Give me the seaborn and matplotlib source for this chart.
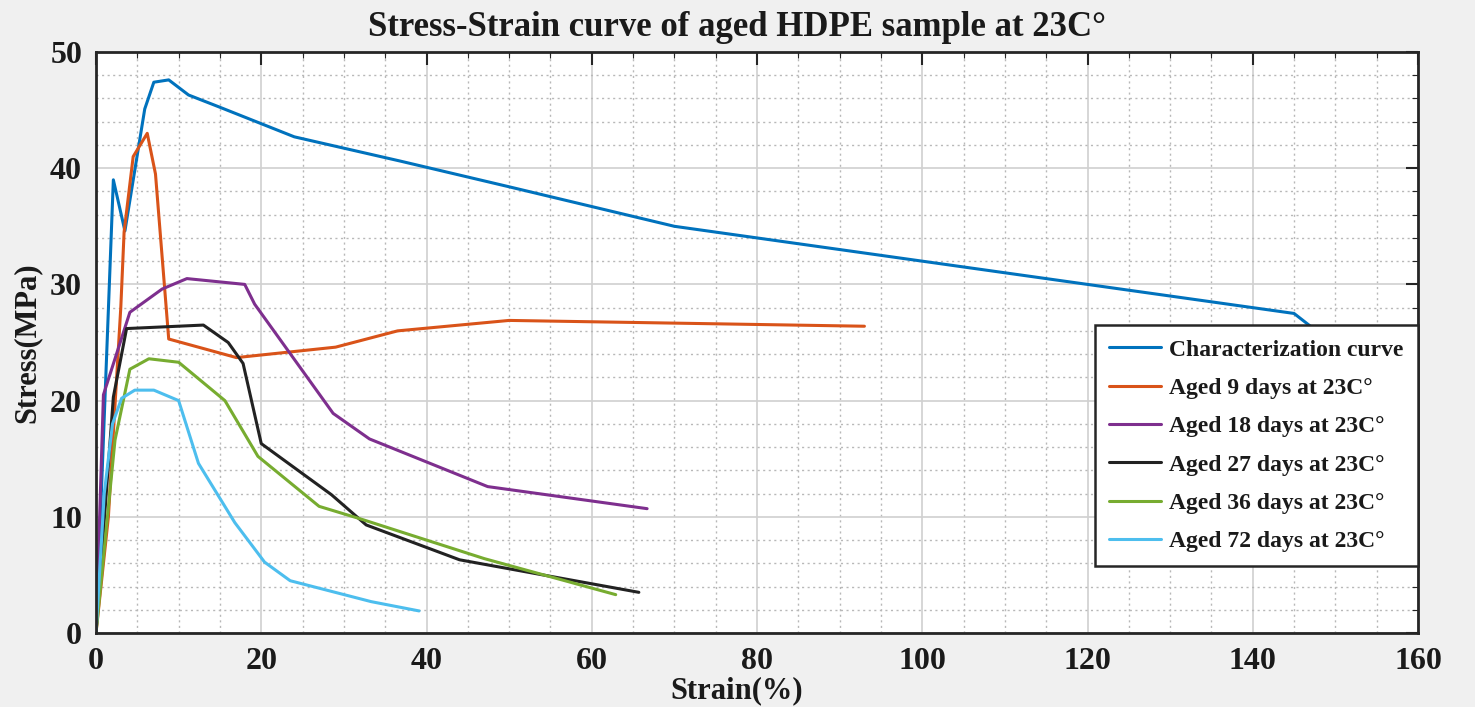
import numpy as np
import pandas as pd
import matplotlib
matplotlib.use("Agg")
import matplotlib.pyplot as plt
from matplotlib.ticker import MultipleLocator
import seaborn as sns

# strain (%) / stress (MPa)
char_strain = [0, 2.1, 3.5, 5.9, 7.0, 8.8, 11.2, 14.8, 24.0, 36.9, 50.0, 70.0, 145.0, 149.5]
char_stress = [0, 39.0, 34.6, 45.1, 47.4, 47.6, 46.3, 45.3, 42.7, 40.6, 38.4, 35.0, 27.5, 25.0]

d9_strain = [0, 1.5, 3.0, 3.4, 4.5, 6.2, 7.2, 8.8, 17.0, 29.0, 36.5, 50.0, 93.0]
d9_stress = [0, 10.0, 28.0, 34.5, 41.0, 43.0, 39.5, 25.3, 23.7, 24.6, 26.0, 26.9, 26.4]

d18_strain = [0, 0.9, 4.1, 8.0, 11.0, 18.0, 19.2, 28.7, 33.1, 47.4, 66.7]
d18_stress = [0, 20.5, 27.6, 29.6, 30.5, 30.0, 28.3, 18.9, 16.7, 12.6, 10.7]

d27_strain = [0, 2.1, 3.7, 13.0, 16.0, 17.8, 20.0, 28.5, 32.7, 44.0, 65.7]
d27_stress = [0, 20.3, 26.2, 26.5, 25.0, 23.2, 16.3, 11.9, 9.3, 6.3, 3.5]

d36_strain = [0, 2.3, 4.1, 6.4, 10.0, 15.6, 19.6, 27.0, 32.1, 47.0, 62.9]
d36_stress = [0, 16.6, 22.7, 23.6, 23.3, 20.0, 15.2, 10.9, 9.8, 6.4, 3.3]

d72_strain = [0, 1.0, 2.0, 3.1, 4.7, 7.0, 10.0, 12.4, 16.8, 20.4, 23.5, 33.3, 39.1]
d72_stress = [0, 12.0, 18.0, 20.2, 20.9, 20.9, 20.0, 14.6, 9.5, 6.1, 4.5, 2.7, 1.9]

labels = [
    "Characterization curve",
    "Aged 9 days at 23C°",
    "Aged 18 days at 23C°",
    "Aged 27 days at 23C°",
    "Aged 36 days at 23C°",
    "Aged 72 days at 23C°",
]
colors = ["#0072BD", "#D95319", "#7E2F8E", "#222222", "#77AC30", "#4DBEEE"]

curves = [
    (char_strain, char_stress),
    (d9_strain, d9_stress),
    (d18_strain, d18_stress),
    (d27_strain, d27_stress),
    (d36_strain, d36_stress),
    (d72_strain, d72_stress),
]

# long-form table for seaborn
frames = []
for label, (xs, ys) in zip(labels, curves):
    frames.append(pd.DataFrame({"strain": xs, "stress": ys, "sample": label}))
df = pd.concat(frames, ignore_index=True)

sns.set_style("white")
plt.rcParams["font.family"] = ["Liberation Serif", "DejaVu Serif"]
plt.rcParams["font.weight"] = "bold"

fig = plt.figure(figsize=(14.75, 7.07), dpi=100, facecolor="#f0f0f0")
ax = fig.add_axes([96 / 1475, 1 - 633 / 707, (1418 - 96) / 1475, (633 - 52) / 707])
ax.set_facecolor("white")

sns.lineplot(
    data=df, x="strain", y="stress", hue="sample", hue_order=labels,
    palette=dict(zip(labels, colors)), estimator=None, sort=False,
    linewidth=2.2, ax=ax,
)

ax.set_xlim(0, 160)
ax.set_ylim(0, 50)
ax.xaxis.set_major_locator(MultipleLocator(20))
ax.xaxis.set_minor_locator(MultipleLocator(5))
ax.yaxis.set_major_locator(MultipleLocator(10))
ax.yaxis.set_minor_locator(MultipleLocator(2))

ax.grid(which="major", color="#d0d0d0", linewidth=1.2, linestyle="-")
ax.grid(which="minor", color="#b8b8b8", linewidth=1.0, linestyle=(0, (1.5, 2.5)))
ax.set_axisbelow(True)

ax.tick_params(which="both", direction="in", top=True, right=True, colors="#262626")
ax.tick_params(which="major", length=9, width=1.5, labelsize=23, pad=10)
ax.tick_params(which="minor", length=4, width=0.8)
for lab in ax.get_xticklabels() + ax.get_yticklabels():
    lab.set_fontweight("bold")
    lab.set_color("#1a1a1a")

for spine in ax.spines.values():
    spine.set_visible(True)
    spine.set_color("#262626")
    spine.set_linewidth(2.0)

ax.set_xlabel("Strain(%)", fontsize=22, fontweight="bold", color="#1a1a1a", va="center")
ax.xaxis.set_label_coords(0.485, -0.1)
ax.set_ylabel("Stress(MPa)", fontsize=22, fontweight="bold", color="#1a1a1a", va="center")
ax.yaxis.set_label_coords(-0.052, 0.5)
fig.text(0.5, 1 - 28 / 707, "Stress-Strain curve of aged HDPE sample at 23C°",
         ha="center", va="center", fontsize=25, fontweight="bold", color="#1a1a1a")

leg = ax.legend(
    loc="upper right", bbox_to_anchor=(1.0, 1 - (325 - 52) / 581),
    fontsize=17, frameon=True, fancybox=False, framealpha=1,
    edgecolor="#262626", handlelength=2.2, labelspacing=0.71,
    borderpad=0.6, handletextpad=0.35, borderaxespad=0,
)
leg.get_frame().set_linewidth(1.8)
for text in leg.get_texts():
    text.set_fontweight("bold")
    text.set_color("#1a1a1a")

fig.savefig("out.png", dpi=100, facecolor=fig.get_facecolor())
